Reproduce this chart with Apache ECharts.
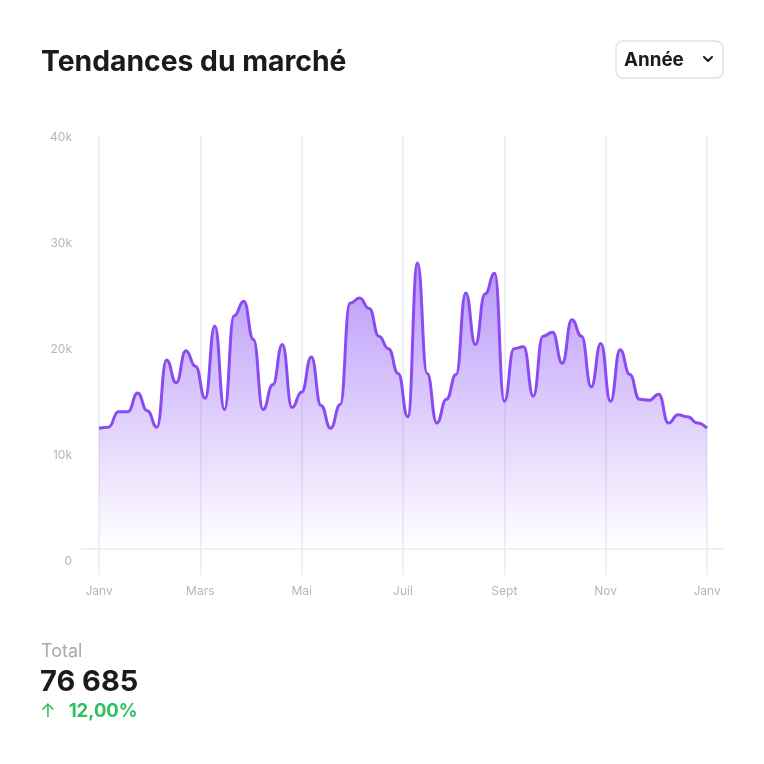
<!DOCTYPE html>
<html>
<head>
<meta charset="utf-8">
<script src="https://cdn.jsdelivr.net/npm/echarts@6/dist/echarts.min.js"></script>
<style>
  html, body { margin: 0; padding: 0; background: #ffffff; }
  #chart { width: 764px; height: 764px; }
</style>
</head>
<body>
<div id="chart"></div>
<script>
// ---- data ----
const titleText = 'Tendances du marché';
const periodLabel = 'Année';
const totalLabel = 'Total';
const totalValue = '76 685';
const changeText = '12,00%';

const monthTicks = [0, 2, 4, 6, 8, 10, 12];
const monthLabels = ['Janv', 'Mars', 'Mai', 'Juil', 'Sept', 'Nov', 'Janv'];
const yTicks = [0, 10000, 20000, 30000, 40000];

const values = [
  11700, 11800, 13300, 13300, 15100, 13400, 11800, 18300, 16100, 19200,
  17700, 14600, 21600, 13500, 22600, 24000, 20300, 13500, 15900, 19800,
  13700, 15200, 18600, 13900, 11700, 14000, 23800, 24300, 23300, 20600,
  19400, 17000, 12800, 27700, 17000, 12200, 14500, 16900, 24800, 19800,
  24700, 26700, 14300, 19400, 19600, 14800, 20600, 21000, 18000, 22200,
  20600, 15700, 19900, 14300, 19300, 16900, 14500, 14400, 15000, 12200,
  13000, 12800, 12200, 11700
];
const pointIndex = values.map((v, i) => i);

const chart = echarts.init(document.getElementById('chart'), null, { renderer: 'canvas' });

const fontFamily = 'Inter, "Noto Sans", sans-serif';
const purple = '#8a4cf2';
const gridColor = '#f0eff5';
const labelColor = '#b5b5bb';

chart.setOption({
  backgroundColor: '#ffffff',
  animation: false,
  textStyle: { fontFamily: fontFamily },
  title: [
    {
      text: titleText,
      left: 41, top: 48, padding: 0,
      textStyle: { fontSize: 28.3, fontWeight: 700, color: '#1b1b1f', fontFamily: fontFamily }
    },
    {
      text: totalLabel,
      left: 41, top: 643, padding: 0,
      textStyle: { fontSize: 18, fontWeight: 400, color: '#a8a8ae', fontFamily: fontFamily }
    },
    {
      text: totalValue,
      left: 40, top: 668, padding: 0,
      textStyle: { fontSize: 29, fontWeight: 700, color: '#1b1b1f', fontFamily: fontFamily }
    },
    {
      text: '{a|↑}   {b|' + changeText + '}',
      left: 40, top: 702, padding: 0,
      textStyle: {
        rich: {
          a: { fontSize: 19, fontWeight: 400, color: '#2cc15b', fontFamily: fontFamily },
          b: { fontSize: 18.5, fontWeight: 700, color: '#2cc15b', fontFamily: fontFamily }
        }
      }
    }
  ],
  graphic: [
    {
      type: 'rect',
      shape: { x: 616, y: 41, width: 107, height: 37, r: 7 },
      style: { fill: '#ffffff', stroke: '#e1e1e6', lineWidth: 1.5 }
    },
    {
      type: 'text',
      x: 624, y: 60,
      style: {
        text: periodLabel, fontSize: 18.8, fontWeight: 700, fill: '#1b1b1f',
        fontFamily: fontFamily, verticalAlign: 'middle'
      }
    },
    {
      type: 'polyline',
      shape: { points: [[704, 57], [708, 61], [712, 57]] },
      style: { stroke: '#1b1b1f', lineWidth: 2, fill: null, lineCap: 'round', lineJoin: 'round' }
    }
  ],
  grid: [
    { left: 99, right: 57, top: 136, bottom: 215 },   // data
    { left: 99, right: 57, top: 136, bottom: 189 },   // vertical lines + month labels
    { left: 82, right: 41, top: 136, bottom: 215 },   // baseline
    { left: 99, right: 57, top: 137, bottom: 203 }    // value labels
  ],
  xAxis: [
    {
      gridIndex: 0, type: 'category', data: pointIndex, boundaryGap: false,
      show: false
    },
    {
      gridIndex: 1, type: 'value', min: 0, max: 12, interval: 2,
      axisLine: { show: false }, axisTick: { show: false },
      splitLine: { show: true, lineStyle: { color: gridColor, width: 2 } },
      axisLabel: {
        color: labelColor, fontSize: 12, margin: 10, fontFamily: fontFamily,
        formatter: function (v) {
          const i = monthTicks.indexOf(v);
          return i >= 0 ? monthLabels[i] : '';
        }
      }
    },
    {
      gridIndex: 2, type: 'value', min: 0, max: 1,
      axisLine: { show: true, lineStyle: { color: gridColor, width: 2 } },
      axisTick: { show: false }, axisLabel: { show: false }, splitLine: { show: false }
    },
    {
      gridIndex: 3, type: 'value', min: 0, max: 1, show: false
    }
  ],
  yAxis: [
    { gridIndex: 0, type: 'value', min: 0, max: 40000, show: false },
    { gridIndex: 1, type: 'value', min: 0, max: 1, show: false },
    { gridIndex: 2, type: 'value', min: 0, max: 1, show: false },
    {
      gridIndex: 3, type: 'value', min: 0, max: 40000, interval: 10000,
      axisLine: { show: false }, axisTick: { show: false }, splitLine: { show: false },
      axisLabel: {
        color: labelColor, fontSize: 12, margin: 27, fontFamily: fontFamily,
        formatter: function (v) { return v === 0 ? '0' : (v / 1000) + 'k'; }
      }
    }
  ],
  series: [
    {
      type: 'line',
      xAxisIndex: 0, yAxisIndex: 0,
      data: values,
      smooth: 0.5,
      smoothMonotone: 'x',
      symbol: 'none',
      lineStyle: { color: purple, width: 3 },
      areaStyle: {
        color: {
          type: 'linear', x: 0, y: 0, x2: 0, y2: 1,
          colorStops: [
            { offset: 0, color: 'rgba(139, 82, 245, 0.85)' },
            { offset: 1, color: 'rgba(139, 82, 245, 0.0)' }
          ]
        }
      },
      z: 5
    }
  ]
});
</script>
</body>
</html>
